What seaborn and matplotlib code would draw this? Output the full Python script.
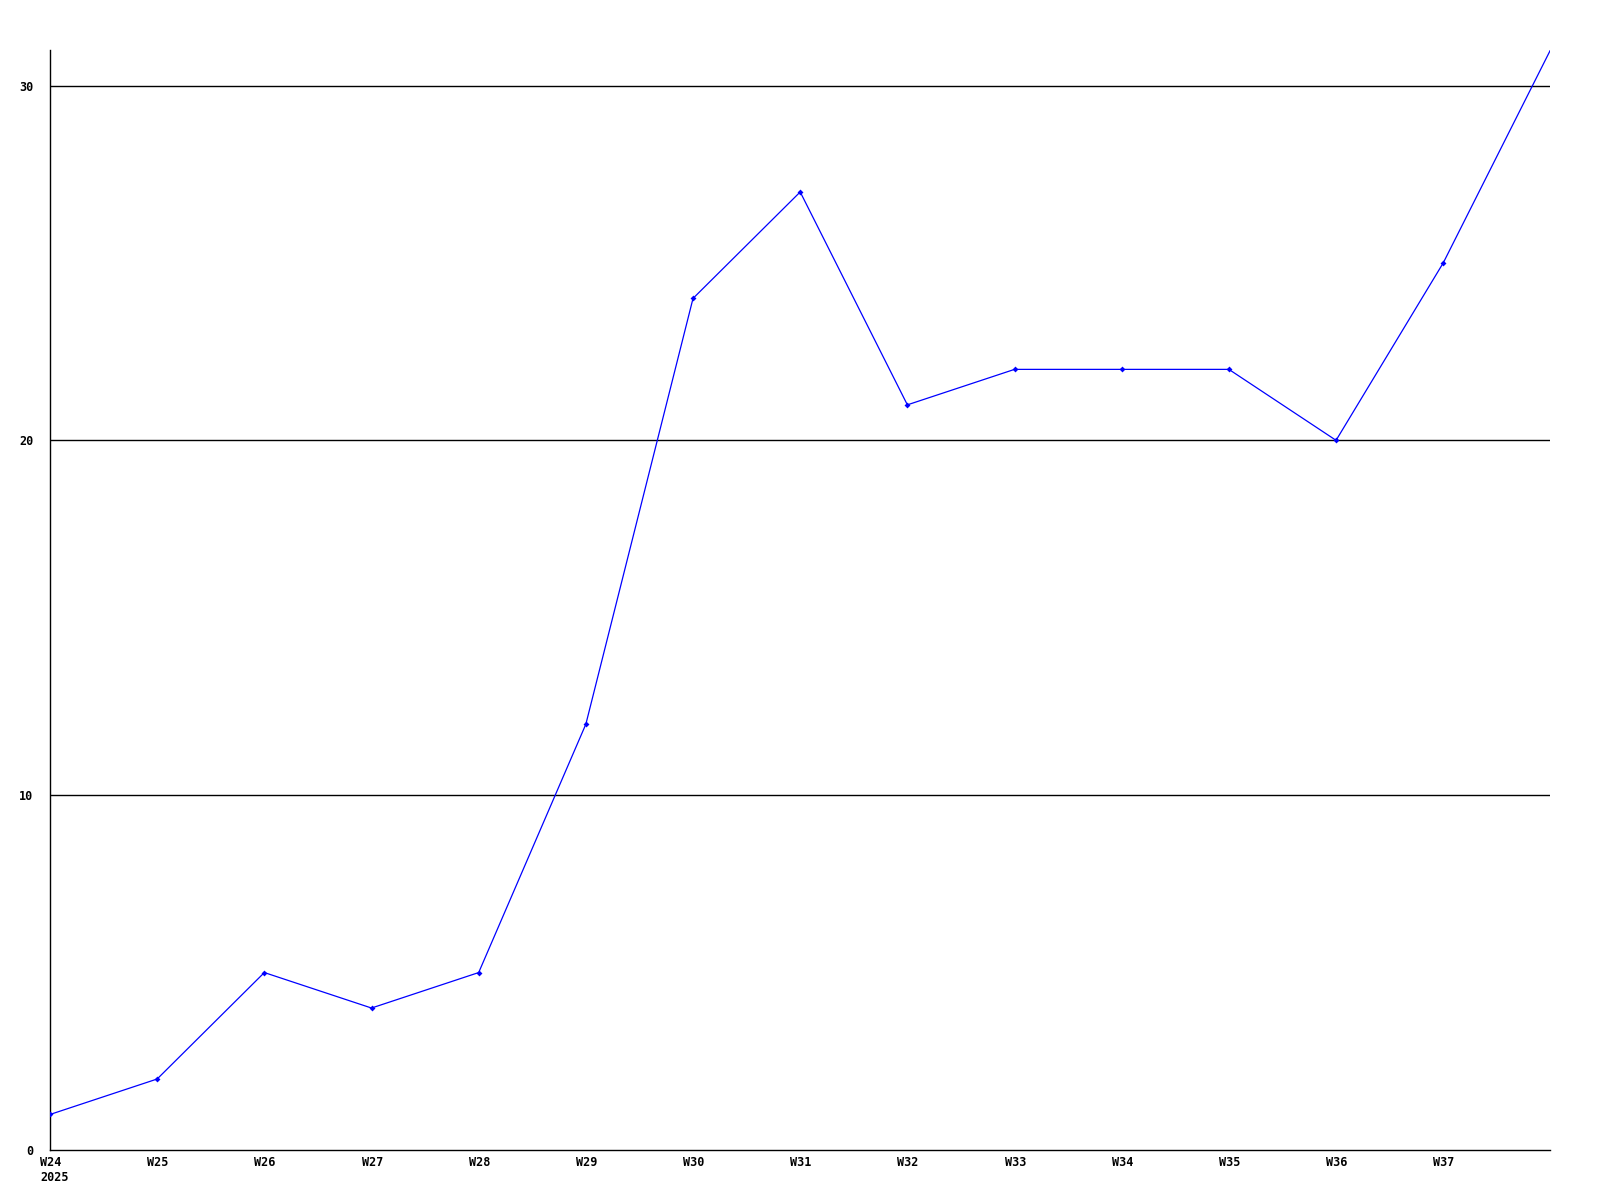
import matplotlib
matplotlib.use("Agg")
import matplotlib.pyplot as plt
import matplotlib.transforms as mtransforms
import seaborn as sns
import pandas as pd

weeks = ["W24", "W25", "W26", "W27", "W28", "W29", "W30", "W31",
         "W32", "W33", "W34", "W35", "W36", "W37", "W38"]
values = [1, 2, 5, 4, 5, 12, 24, 27, 21, 22, 22, 22, 20, 25, 31]
tick_labels = ["W24\n2025", "W25", "W26", "W27", "W28", "W29", "W30", "W31",
               "W32", "W33", "W34", "W35", "W36", "W37"]
y_ticks = [0, 10, 20, 30]

sns.set_style("white")
plt.rcParams['font.family'] = ['DejaVu Sans Mono', 'DejaVu Sans']

df = pd.DataFrame({"idx": range(len(weeks)), "value": values})

fig = plt.figure(figsize=(16, 12), dpi=100)
ax = fig.add_axes([0.03125, 0.0417, 0.969 - 0.03125, 0.9583 - 0.0417])

for yt in y_ticks[1:]:
    ax.axhline(yt, color="black", lw=1.0, zorder=1)

sns.lineplot(data=df, x="idx", y="value", ax=ax, color="#0000FF", lw=0.9,
             marker="D", markersize=3, markeredgewidth=0, zorder=3,
             markevery=list(range(len(weeks) - 1)))

ax.set_xlim(0, len(weeks) - 1)
ax.set_ylim(0, 31)
ax.tick_params(axis="both", length=0)
ax.tick_params(axis="x", pad=4.5)
ax.tick_params(axis="y", pad=12)
ax.set_xticks(range(len(tick_labels)))
ax.set_xticklabels(tick_labels, fontsize=8.5, fontweight="bold", ha="left",
                   linespacing=1.2, color="black")
offset = mtransforms.ScaledTranslation(-10 / 100, 0, fig.dpi_scale_trans)
for lab in ax.get_xticklabels():
    lab.set_transform(lab.get_transform() + offset)
ax.set_yticks(y_ticks)
ax.set_yticklabels([str(v) for v in y_ticks], fontsize=8.5, fontweight="bold", color="black")
ax.set_xlabel("")
ax.set_ylabel("")
for s in ["top", "right"]:
    ax.spines[s].set_visible(False)
for s in ["left", "bottom"]:
    ax.spines[s].set_color("black")
    ax.spines[s].set_linewidth(1.0)

fig.savefig("out.png", dpi=100, facecolor="white")
